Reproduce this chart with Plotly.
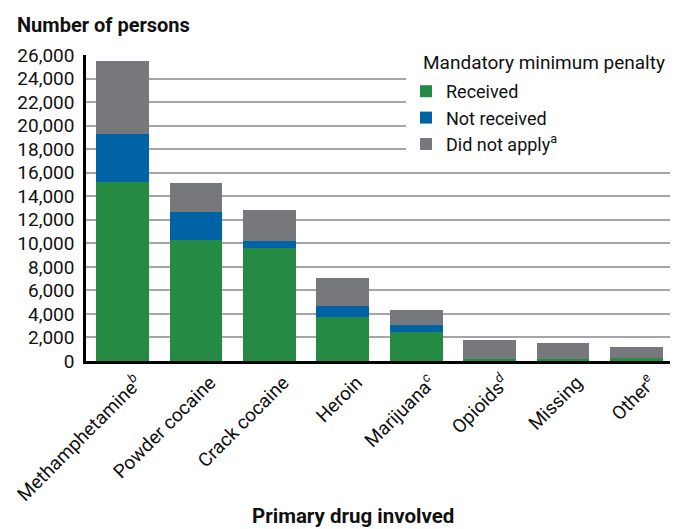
import plotly.graph_objects as go

categories = ["Methamphetamine<sup><i>b</i></sup>", "Powder cocaine", "Crack cocaine", "Heroin",
              "Marijuana<sup><i>c</i></sup>", "Opioids<sup><i>d</i></sup>", "Missing", "Other<sup><i>e</i></sup>"]
received = [15220, 10280, 9600, 3740, 2460, 140, 130, 270]
not_received = [4070, 2380, 600, 930, 600, 0, 0, 0]
did_not_apply = [6200, 2460, 2630, 2380, 1270, 1640, 1400, 920]
y_ticks = list(range(0, 26001, 2000))
y_ticklabels = [f"{v:,}" for v in y_ticks]

FONT = "Roboto, Liberation Sans, sans-serif"
colors = {"Received": "#248A44", "Not received": "#0063A5", "Did not apply": "#77787B"}

# page has an 8px body margin, so the figure is 8px smaller and all positions are shifted by -8
OFF = 8
W, H = 678 - OFF, 529 - OFF
L, R, T = 86 - OFF, 5, 55 - OFF
B = H - (361 - OFF)
PW, PH = W - L - R, H - T - B


def px(xs):
    return (xs - OFF - L) / PW


def py(ys):
    return 1 - (ys - OFF - T) / PH


fig = go.Figure()
fig.add_bar(x=categories, y=received, name="Received", marker_color=colors["Received"], marker_line_width=0)
fig.add_bar(x=categories, y=not_received, name="Not received", marker_color=colors["Not received"], marker_line_width=0)
fig.add_bar(x=categories, y=did_not_apply, name="Did not apply<sup>a</sup>", marker_color=colors["Did not apply"], marker_line_width=0)

fig.update_layout(
    barmode="stack",
    bargap=0.28,
    width=W, height=H,
    margin=dict(l=L, r=R, t=T, b=B, autoexpand=False),
    paper_bgcolor="white", plot_bgcolor="white",
    font=dict(family=FONT, color="#111111", size=19),
    showlegend=True,
    legend=dict(
        x=px(406), y=py(73), xanchor="left", yanchor="top",
        bgcolor="white", borderwidth=0,
        font=dict(size=18, family=FONT),
        traceorder="normal",
        itemwidth=30,
    ),
    xaxis=dict(
        tickangle=-45, tickfont=dict(size=19, family=FONT), automargin=False,
        ticklabelshift=14,
        showline=True, linecolor="black", linewidth=3, ticks="", showgrid=False,
    ),
    yaxis=dict(
        range=[0, 26000], tickvals=y_ticks, ticktext=y_ticklabels, automargin=False,
        tickfont=dict(size=19, family=FONT), ticklabelstandoff=5,
        showgrid=True, gridcolor="#A4A5A8", gridwidth=1.5,
        showline=True, linecolor="black", linewidth=2.5, ticks="", zeroline=False,
    ),
    shapes=[
        dict(type="rect", xref="paper", yref="paper", layer="above",
             x0=px(407), x1=1.0, y0=py(156), y1=py(50),
             fillcolor="white", line_width=0),
    ],
    annotations=[
        dict(text="<b>Number of persons</b>", xref="paper", yref="paper",
             x=px(15), y=py(25), xanchor="left", yanchor="middle",
             showarrow=False, font=dict(size=20, family=FONT)),
        dict(text="Mandatory minimum penalty", xref="paper", yref="paper",
             x=px(421), y=py(62), xanchor="left", yanchor="middle",
             showarrow=False, font=dict(size=19, family=FONT)),
        dict(text="<b>Primary drug involved</b>", xref="paper", yref="paper",
             x=px(353), y=py(516), xanchor="center", yanchor="middle",
             showarrow=False, font=dict(size=20.5, family=FONT)),
    ],
)

fig.write_html("out.html")
